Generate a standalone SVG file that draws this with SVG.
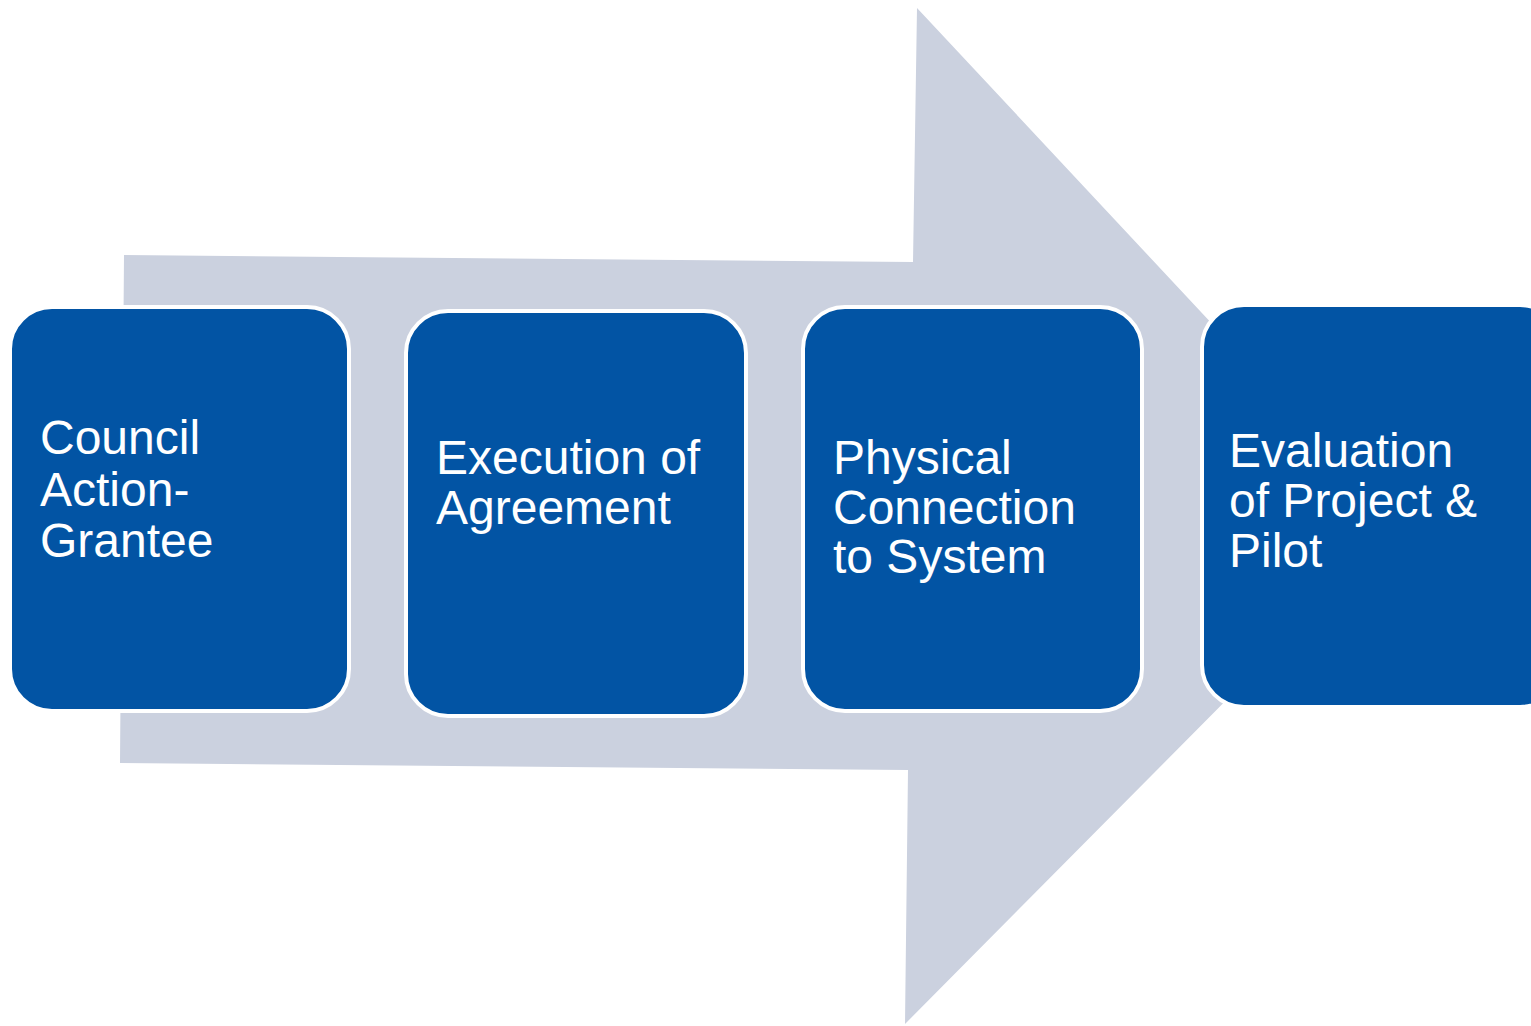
<svg xmlns="http://www.w3.org/2000/svg" width="1531" height="1026" viewBox="0 0 1531 1026">
<style>
.box{fill:#0254A4;stroke:#FFFFFF;stroke-width:4}
.lbl{fill:#FFFFFF;font-family:"Liberation Sans",Arial,sans-serif;font-size:48px}
</style>
<rect width="1531" height="1026" fill="#FFFFFF"/>
<g id="connectors">
<polygon points="124,255 913,262 917,8 1400,525 905,1024 908,770 120,763" fill="#CBD1DF"/>
</g>
<g id="node1">
<rect class="box" x="10" y="307" width="339" height="404" rx="42"/>
<text class="lbl"><tspan x="40" y="454">Council</tspan><tspan x="40" y="506">Action-</tspan><tspan x="40" y="557">Grantee</tspan></text>
</g>
<g id="node2">
<rect class="box" x="406" y="311" width="340" height="405" rx="42"/>
<text class="lbl"><tspan x="436" y="474">Execution of</tspan><tspan x="436" y="524">Agreement</tspan></text>
</g>
<g id="node3">
<rect class="box" x="803" y="307" width="339" height="404" rx="42"/>
<text class="lbl"><tspan x="833" y="474">Physical</tspan><tspan x="833" y="524">Connection</tspan><tspan x="833" y="573">to System</tspan></text>
</g>
<g id="node4">
<rect class="box" x="1202" y="305" width="360" height="402" rx="42"/>
<text class="lbl"><tspan x="1229" y="467">Evaluation</tspan><tspan x="1229" y="517">of Project &amp;</tspan><tspan x="1229" y="567">Pilot</tspan></text>
</g>
</svg>
